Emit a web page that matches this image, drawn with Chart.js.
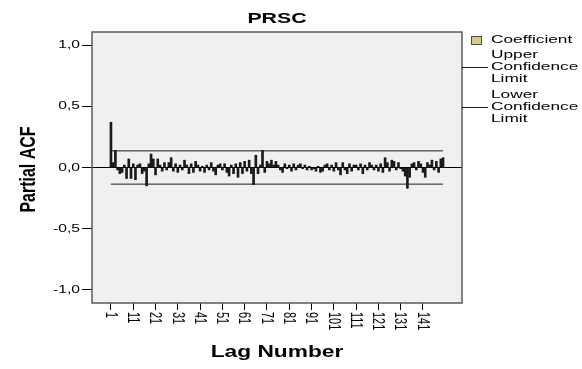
<!DOCTYPE html>
<html>
<head>
<meta charset="utf-8">
<title>PRSC partial ACF</title>
<script src="https://cdn.jsdelivr.net/npm/chart.js@4.4.0/dist/chart.umd.min.js"></script>
<style>
    html, body { margin: 0; padding: 0; background: #ffffff; }
    #wrap { width: 582px; height: 369px; }
</style>
</head>
<body>
<div id="wrap"><canvas id="pacfChart" width="582" height="369"></canvas></div>
<script>
const chartTitle = 'PRSC';
const xTitle = 'Lag Number';
const yTitle = 'Partial ACF';

// lag numbers 1..150
const lags = Array.from({ length: 150 }, (_, i) => i + 1);

// partial autocorrelation per lag
const pacfValues = [
    0.37, 0.04, 0.14, -0.02, -0.05, -0.04, 0.02, -0.09, 0.07, -0.09,
    0.03, -0.10, 0.02, 0.03, -0.05, -0.03, -0.15, 0.03, 0.11, 0.07,
    -0.06, 0.07, 0.02, -0.03, 0.04, -0.02, 0.04, 0.08, -0.03, 0.03,
    -0.04, 0.02, -0.02, 0.06, 0.02, -0.05, 0.03, -0.04, 0.05, 0.02,
    -0.03, 0.01, -0.04, 0.02, -0.02, 0.04, -0.03, -0.06, 0.02, 0.03,
    -0.02, 0.03, -0.04, -0.07, 0.02, -0.05, 0.03, -0.08, 0.04, -0.05,
    0.05, -0.03, 0.06, -0.05, -0.14, 0.10, -0.05, 0.02, 0.14, -0.04,
    0.05, 0.03, 0.06, 0.02, 0.05, 0.02, -0.02, -0.04, 0.03, -0.01,
    0.02, -0.03, 0.03, -0.02, 0.02, 0.03, -0.01, 0.02, -0.02, 0.01,
    -0.02, -0.01, -0.03, 0.01, -0.04, -0.03, 0.02, 0.03, -0.02, 0.02,
    -0.03, 0.04, -0.02, -0.06, 0.04, -0.02, -0.05, 0.03, -0.03, 0.02,
    0.02, -0.02, 0.03, -0.05, 0.02, -0.02, 0.04, 0.02, -0.02, 0.02,
    -0.03, 0.03, -0.04, 0.08, 0.04, -0.03, 0.06, 0.05, -0.02, 0.04,
    -0.01, -0.03, -0.07, -0.17, -0.08, 0.03, 0.04, -0.02, 0.05, 0.03,
    -0.04, -0.08, 0.04, 0.02, 0.06, -0.02, 0.05, -0.04, 0.07, 0.08
];

const upperLimit = 0.136;
const lowerLimit = -0.136;

const yTicks = [-1, -0.5, 0, 0.5, 1];
const xTicks = [1, 11, 21, 31, 41, 51, 61, 71, 81, 91, 101, 111, 121, 131, 141];

const legendItems = ['Coefficient', 'Upper Confidence Limit', 'Lower Confidence Limit'];

// the picture is stretched sideways, so every text gets the same squeeze
const TEXT_STRETCH = 1.42;
const FONT = '"Liberation Sans", Arial, sans-serif';

function stretchText(ctx, text, x, y, font, align, baseline, angle, stretch) {
    ctx.save();
    ctx.translate(x, y);
    ctx.scale(stretch || TEXT_STRETCH, 1);
    if (angle) ctx.rotate(angle);
    ctx.font = font;
    ctx.textAlign = align;
    ctx.textBaseline = baseline;
    ctx.fillStyle = '#000';
    ctx.fillText(text, 0, 0);
    ctx.restore();
}

function fmt(v) {
    return v.toFixed(1).replace('.', ',');
}

const plotBackground = {
    id: 'plotBackground',
    beforeDraw(chart) {
        const ctx = chart.ctx;
        const a = chart.chartArea;
        ctx.save();
        ctx.fillStyle = '#ffffff';
        ctx.fillRect(0, 0, chart.width, chart.height);
        ctx.fillStyle = '#f0f0f0';
        ctx.fillRect(a.left, a.top, a.right - a.left, a.bottom - a.top);
        ctx.restore();
    }
};

const textLayer = {
    id: 'textLayer',
    afterDraw(chart) {
        const ctx = chart.ctx;
        const a = chart.chartArea;
        const xs = chart.scales.x;
        const ys = chart.scales.y;

        // frame
        ctx.save();
        ctx.strokeStyle = '#5a5a5a';
        ctx.lineWidth = 1.5;
        ctx.strokeRect(a.left, a.top, a.right - a.left, a.bottom - a.top);
        ctx.restore();

        stretchText(ctx, chartTitle, (a.left + a.right) / 2, 19, 'bold 15px ' + FONT, 'center', 'middle');

        yTicks.forEach(v => {
            stretchText(ctx, fmt(v), a.left - 12, ys.getPixelForValue(v), '11px ' + FONT, 'right', 'middle');
        });

        xTicks.forEach(v => {
            stretchText(ctx, String(v), xs.getPixelForValue(v) - 1, a.bottom + 9, '11px ' + FONT, 'left', 'middle', Math.PI / 2);
        });

        stretchText(ctx, xTitle, (a.left + a.right) / 2, 353, 'bold 16px ' + FONT, 'center', 'middle');
        stretchText(ctx, yTitle, 29, (a.top + a.bottom) / 2 + 2, 'bold 16px ' + FONT, 'center', 'middle', -Math.PI / 2);

        // legend
        const lx = a.right;
        const tx = lx + 29;
        ctx.save();
        ctx.fillStyle = '#d6cb8c';
        ctx.strokeStyle = '#4d4d4d';
        ctx.lineWidth = 1;
        ctx.fillRect(lx + 9, 36, 10, 8);
        ctx.strokeRect(lx + 9.5, 36.5, 10, 8);
        ctx.strokeStyle = '#1e1e1e';
        ctx.beginPath();
        ctx.moveTo(lx, 67.5);
        ctx.lineTo(lx + 26, 67.5);
        ctx.moveTo(lx, 107.5);
        ctx.lineTo(lx + 26, 107.5);
        ctx.stroke();
        ctx.restore();

        const f = '11.5px ' + FONT;
        stretchText(ctx, legendItems[0], tx, 40, f, 'left', 'middle', 0, 1.5);
        const upper = legendItems[1].split(' ');
        const lower = legendItems[2].split(' ');
        upper.forEach((w, i) => stretchText(ctx, w, tx, 55 + i * 12, f, 'left', 'middle', 0, 1.5));
        lower.forEach((w, i) => stretchText(ctx, w, tx, 95 + i * 12, f, 'left', 'middle', 0, 1.5));
    }
};

const ctx = document.getElementById('pacfChart');

const config = {
    type: 'bar',
    data: {
        datasets: [
            {
                type: 'line',
                label: legendItems[1],
                data: [{ x: lags[0], y: upperLimit }, { x: lags[lags.length - 1], y: upperLimit }],
                borderColor: '#1e1e1e',
                borderWidth: 1,
                pointRadius: 0,
                order: 0
            },
            {
                type: 'line',
                label: legendItems[2],
                data: [{ x: lags[0], y: lowerLimit }, { x: lags[lags.length - 1], y: lowerLimit }],
                borderColor: '#1e1e1e',
                borderWidth: 1,
                pointRadius: 0,
                order: 0
            },
            {
                label: legendItems[0],
                data: lags.map((l, i) => ({ x: l, y: pacfValues[i] })),
                backgroundColor: '#1a1a1a',
                barThickness: 2,
                order: 1
            }
        ]
    },
    options: {
        responsive: false,
        animation: false,
        devicePixelRatio: 1,
        layout: { padding: { left: 0, top: 32, right: 120, bottom: 0 } },
        plugins: {
            legend: { display: false },
            title: { display: false },
            tooltip: { enabled: false }
        },
        scales: {
            x: {
                type: 'linear',
                min: -7.5,
                max: 158.5,
                offset: false,
                afterBuildTicks: s => { s.ticks = xTicks.map(v => ({ value: v })); },
                afterFit: s => { s.height = 66; },
                grid: { drawOnChartArea: false, tickLength: 7, tickColor: '#000', offset: false },
                border: { display: false },
                ticks: { color: 'rgba(0,0,0,0)', maxRotation: 0, autoSkip: false, font: { size: 8 } }
            },
            y: {
                type: 'linear',
                min: -1.108,
                max: 1.108,
                afterBuildTicks: s => { s.ticks = yTicks.map(v => ({ value: v })); },
                afterFit: s => { s.width = 92; },
                grid: {
                    color: c => (c.tick && c.tick.value === 0 ? '#000' : 'rgba(0,0,0,0)'),
                    tickColor: '#000',
                    tickLength: 10
                },
                border: { display: false },
                ticks: { color: 'rgba(0,0,0,0)', font: { size: 8 } }
            }
        }
    },
    plugins: [plotBackground, textLayer]
};

const pacfChart = new Chart(ctx, config);
</script>
</body>
</html>
